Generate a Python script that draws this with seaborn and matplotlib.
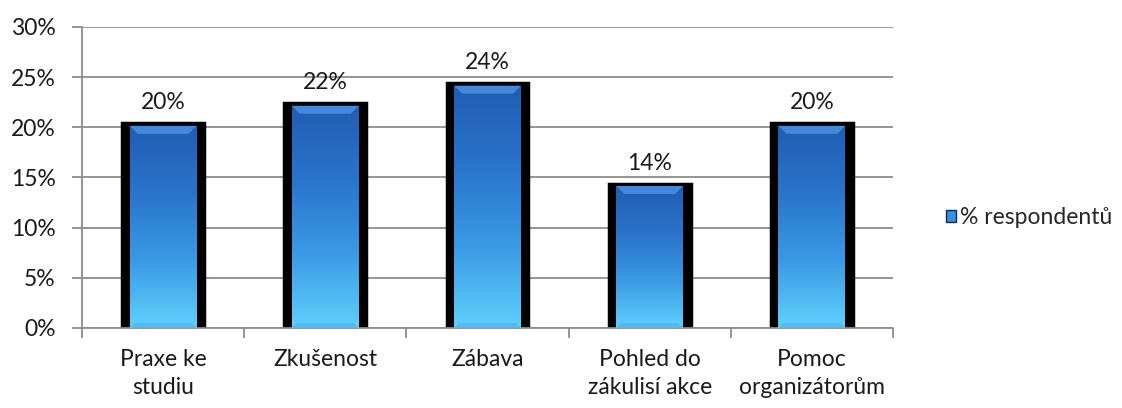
import numpy as np
import matplotlib
matplotlib.use('Agg')
import matplotlib.pyplot as plt
from matplotlib.patches import Rectangle, Polygon
from matplotlib.ticker import PercentFormatter
import seaborn as sns

categories = ['Praxe ke\nstudiu', 'Zkušenost', 'Zábava', 'Pohled do\nzákulisí akce', 'Pomoc\norganizátorům']
values = [0.204, 0.224, 0.244, 0.144, 0.204]
value_labels = ['20%', '22%', '24%', '14%', '20%']
series_name = '% respondentů'

sns.set_style('white')
plt.rcParams['font.family'] = ['Lato', 'DejaVu Sans']
FS = 16.5

fig = plt.figure(figsize=(11.22, 4.08), dpi=100)
ax = fig.add_axes([82 / 1122, 80 / 408, 811 / 1122, 301 / 408])

sns.barplot(x=categories, y=values, color='black', width=0.505, saturation=1,
            edgecolor='black', linewidth=2.5, ax=ax)

ax.set_yticks(np.arange(0, 0.31, 0.05))
ax.yaxis.set_major_formatter(PercentFormatter(1.0, decimals=0))
ax.yaxis.grid(True, color='#8c8c8c', lw=1.3)
ax.set_axisbelow(True)

# blue gradient face inside the black frame, with a light bevel at the top
grad = np.linspace(0, 1, 256).reshape(-1, 1)
cmap = matplotlib.colors.LinearSegmentedColormap.from_list(
    'b', ['#5fd0fd', '#3a9ae4', '#2a74cc', '#1f5db2'])
px_x = 5 / 811
px_y = 0.30 / 301
for p, lab in zip(ax.patches, value_labels):
    x0, w, h = p.get_x(), p.get_width(), p.get_height()
    xl, xr = x0 + 7.5 * px_x, x0 + w - 7.5 * px_x
    top = h - 2.5 * px_y
    inner = Rectangle((xl, 0.0), xr - xl, top, fc='none', ec='none')
    ax.add_patch(inner)
    im = ax.imshow(grad, cmap=cmap, aspect='auto', origin='lower',
                   extent=(xl, xr, 0.0, top), zorder=3)
    im.set_clip_path(inner)
    bev = 8
    ax.add_patch(Polygon([(xl, top), (xr, top), (xr - bev * px_x, top - bev * px_y),
                          (xl + bev * px_x, top - bev * px_y)],
                         closed=True, fc='#4d8fe0', ec='none', alpha=0.85, zorder=4))
    ax.add_patch(Polygon([(xl, 0), (xr, 0), (xr - 5 * px_x, 5 * px_y), (xl + 5 * px_x, 5 * px_y)],
                         closed=True, fc='#3a9ee6', ec='none', alpha=0.4, zorder=4))
    ax.annotate(lab, (x0 + w / 2, h), xytext=(0, 10), textcoords='offset points',
                ha='center', va='baseline', fontsize=FS, color='#1a1a1a')

ax.set_xlim(-0.5, len(categories) - 0.5)
ax.set_ylim(0, 0.30)

for s in ['top', 'right']:
    ax.spines[s].set_visible(False)
for s in ['left', 'bottom']:
    ax.spines[s].set_color('#8c8c8c')
    ax.spines[s].set_linewidth(1.3)

ax.tick_params(axis='y', left=True, length=7, width=1.3, color='#8c8c8c', labelsize=FS,
               labelcolor='#1a1a1a', pad=12)
ax.set_xticks(range(len(categories)))
ax.set_xticklabels(categories, fontsize=FS, color='#1a1a1a', linespacing=1.4)
ax.tick_params(axis='x', which='major', bottom=False, length=0, pad=15)
ax.set_xticks(np.arange(-0.5, len(categories), 1), minor=True)
ax.tick_params(axis='x', which='minor', bottom=True, length=7, width=1.3, color='#8c8c8c')

handle = Rectangle((0, 0), 1, 1, fc='#3a8ee0', ec='#0a2a5a', lw=1)
fig.legend([handle], [series_name], loc='center left', bbox_to_anchor=(946 / 1122, 190 / 408),
           frameon=False, fontsize=FS, handlelength=0.42, handleheight=0.42,
           handletextpad=0.2, borderpad=0, borderaxespad=0)

fig.savefig('out.png', dpi=100)
